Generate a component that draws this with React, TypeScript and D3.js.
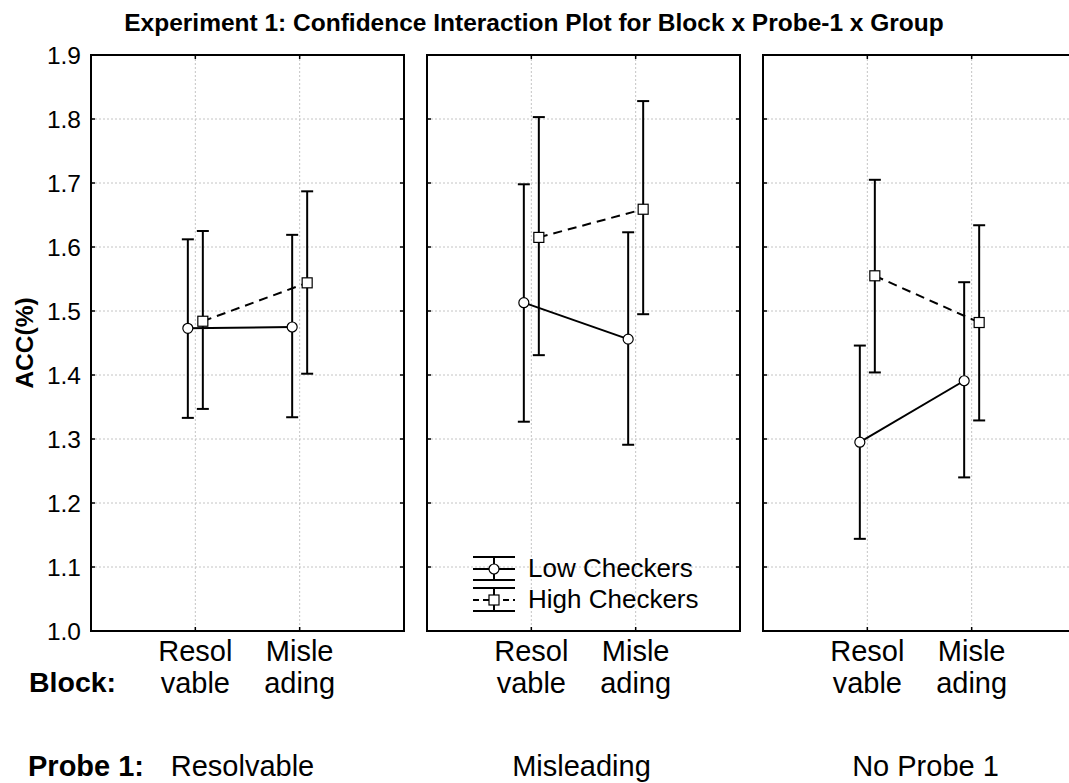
import React from "react";
import * as d3 from "d3";

const probeLabels = ["Resolvable", "Misleading", "No Probe 1"];
const blocks = ["Resolvable", "Misleading"];
const blockLabelLines = [["Resol", "vable"], ["Misle", "ading"]];
const yTicks = [1.0, 1.1, 1.2, 1.3, 1.4, 1.5, 1.6, 1.7, 1.8, 1.9];

// per probe panel, per block
const lowMean = [[1.473, 1.475], [1.513, 1.456], [1.295, 1.391]];
const lowUpper = [[1.612, 1.619], [1.698, 1.623], [1.446, 1.545]];
const lowLower = [[1.333, 1.334], [1.327, 1.291], [1.144, 1.240]];
const highMean = [[1.484, 1.544], [1.615, 1.659], [1.555, 1.482]];
const highUpper = [[1.625, 1.687], [1.803, 1.828], [1.705, 1.634]];
const highLower = [[1.347, 1.402], [1.431, 1.495], [1.404, 1.329]];

const seriesNames = ["Low Checkers", "High Checkers"];

const W = 1069, H = 783;
const FONT = "'Liberation Sans', Arial, Helvetica, sans-serif";
const panelLeft = [91, 427, 763];
const panelW = 313;
const top = 55, bottom = 631;
const probeLabelOffset = [-5, -2, 6];

export default function App() {
  const y = d3.scaleLinear().domain([1.0, 1.9]).range([bottom, top]);
  const series = [
    { mean: lowMean, up: lowUpper, lo: lowLower, off: -7.5, dash: null, marker: "circle" },
    { mean: highMean, up: highUpper, lo: highLower, off: 7.5, dash: "9,6", marker: "square" },
  ];
  const cap = 6;

  return (
    <svg width={W} height={H} style={{ position: "absolute", left: 0, top: 0, background: "#fff" }} fontFamily={FONT}>
      <rect x={0} y={0} width={W} height={H} fill="#fff" />
      <text x={534} y={31} textAnchor="middle" fontWeight="bold" fontSize={24.5}>
        Experiment 1: Confidence Interaction Plot for Block x Probe-1 x Group
      </text>
      <text transform={`translate(33,${(top + bottom) / 2}) rotate(-90)`} textAnchor="middle" fontWeight="bold" fontSize={24.5}>
        ACC(%)
      </text>
      {yTicks.map((t) => (
        <text key={t} x={81} y={y(t)} dy="0.36em" textAnchor="end" fontSize={24.5}>
          {t.toFixed(1)}
        </text>
      ))}
      <text x={29} y={692} fontWeight="bold" fontSize={28.5}>Block:</text>
      <text x={28} y={776} fontWeight="bold" fontSize={29}>Probe 1:</text>

      {probeLabels.map((pl, pi) => {
        const L = panelLeft[pi];
        const R = L + panelW;
        const x = d3.scalePoint<string>().domain(blocks).range([L, R]).padding(1);
        const clipId = `clip${pi}`;
        return (
          <g key={pl}>
            <defs>
              <clipPath id={clipId}>
                <rect x={L - 2} y={0} width={panelW + 4} height={H} />
              </clipPath>
            </defs>
            <g clipPath={`url(#${clipId})`}>
              {yTicks.slice(1, -1).map((t) => (
                <line key={t} x1={L} x2={R} y1={y(t)} y2={y(t)} stroke="#c4c4c4" strokeWidth={1} strokeDasharray="2,2" />
              ))}
              {blocks.map((b) => (
                <line key={b} x1={x(b)} x2={x(b)} y1={top} y2={bottom} stroke="#c4c4c4" strokeWidth={1} strokeDasharray="2,2" />
              ))}
              {yTicks.map((t) => (
                <g key={t}>
                  <line x1={L} x2={L + 4} y1={y(t)} y2={y(t)} stroke="#000" strokeWidth={1.5} />
                  <line x1={R} x2={R - 4} y1={y(t)} y2={y(t)} stroke="#000" strokeWidth={1.5} />
                </g>
              ))}
              {blocks.map((b) => (
                <g key={b}>
                  <line x1={x(b)} x2={x(b)} y1={top} y2={top + 4} stroke="#000" strokeWidth={1.5} />
                  <line x1={x(b)} x2={x(b)} y1={bottom} y2={bottom - 4} stroke="#000" strokeWidth={1.5} />
                </g>
              ))}
              <rect x={L} y={top} width={panelW} height={bottom - top} fill="none" stroke="#000" strokeWidth={2} />

              {series.map((s, si) =>
                blocks.map((b, bi) => {
                  const cx = (x(b) as number) + s.off;
                  return (
                    <g key={`${si}-${b}`} stroke="#000" strokeWidth={2}>
                      <line x1={cx} x2={cx} y1={y(s.up[pi][bi])} y2={y(s.lo[pi][bi])} />
                      <line x1={cx - cap} x2={cx + cap} y1={y(s.up[pi][bi])} y2={y(s.up[pi][bi])} />
                      <line x1={cx - cap} x2={cx + cap} y1={y(s.lo[pi][bi])} y2={y(s.lo[pi][bi])} />
                    </g>
                  );
                })
              )}
              {series.map((s, si) => {
                const line = d3
                  .line<number>()
                  .x((_, bi) => (x(blocks[bi]) as number) + s.off)
                  .y((v) => y(v));
                return (
                  <path key={si} d={line(s.mean[pi]) || ""} fill="none" stroke="#000" strokeWidth={2}
                    strokeDasharray={s.dash || undefined} />
                );
              })}
              {series.map((s, si) =>
                blocks.map((b, bi) => {
                  const cx = (x(b) as number) + s.off;
                  const cy = y(s.mean[pi][bi]);
                  return s.marker === "circle" ? (
                    <circle key={`${si}-${b}`} cx={cx} cy={cy} r={5} fill="#fff" stroke="#000" strokeWidth={1.2} />
                  ) : (
                    <rect key={`${si}-${b}`} x={cx - 5} y={cy - 5} width={10} height={10} fill="#fff" stroke="#000" strokeWidth={1.2} />
                  );
                })
              )}
            </g>
            {blocks.map((b, bi) => (
              <text key={b} x={x(b)} textAnchor="middle" fontSize={29}>
                <tspan x={x(b)} y={661}>{blockLabelLines[bi][0]}</tspan>
                <tspan x={x(b)} y={693}>{blockLabelLines[bi][1]}</tspan>
              </text>
            ))}
            <text x={(L + R) / 2 + probeLabelOffset[pi]} y={776} textAnchor="middle" fontSize={29}>
              {pl}
            </text>
          </g>
        );
      })}

      <g stroke="#000" strokeWidth={2}>
        {seriesNames.map((n, i) => {
          const cy = 569 + i * 31;
          const cx = 494;
          return (
            <g key={n}>
              <line x1={473} x2={515} y1={cy - 12} y2={cy - 12} />
              <line x1={473} x2={515} y1={cy + 11} y2={cy + 11} />
              <line x1={cx} x2={cx} y1={cy - 12} y2={cy + 11} />
              <line x1={473} x2={515} y1={cy} y2={cy} strokeDasharray={i === 1 ? "6,4" : undefined} />
              {i === 0 ? (
                <circle cx={cx} cy={cy} r={5} fill="#fff" strokeWidth={1.2} />
              ) : (
                <rect x={cx - 5} y={cy - 5} width={10} height={10} fill="#fff" strokeWidth={1.2} />
              )}
              <text x={528} y={cy + 8} fontSize={26} stroke="none" fill="#000">{n}</text>
            </g>
          );
        })}
      </g>
    </svg>
  );
}
